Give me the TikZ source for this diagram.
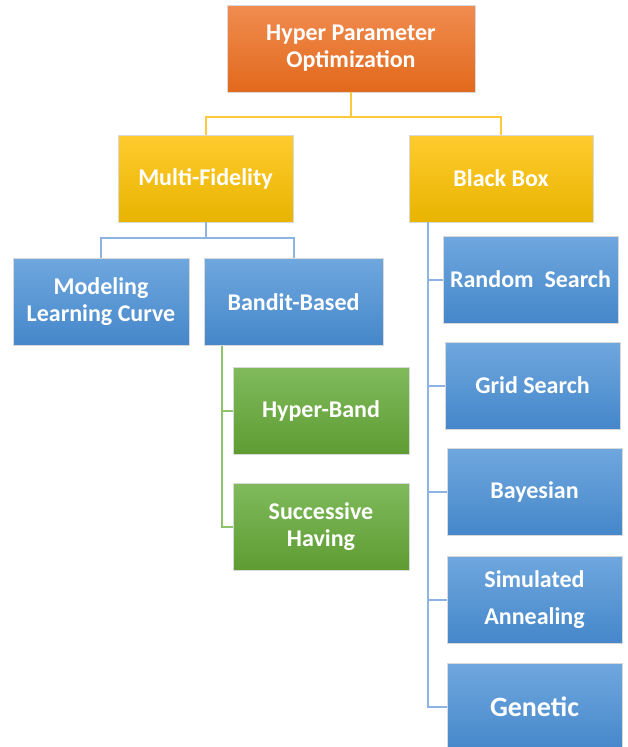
\documentclass[tikz,border=0pt]{standalone}
\usepackage{fontspec}
\setmainfont{Carlito}
\definecolor{orgtop}{HTML}{F08C50}
\definecolor{orgbot}{HTML}{E2691C}
\definecolor{yeltop}{HTML}{FFCB2E}
\definecolor{yelbot}{HTML}{E8B400}
\definecolor{blutop}{HTML}{6FA7DE}
\definecolor{blubot}{HTML}{4587CA}
\definecolor{grntop}{HTML}{80BA5C}
\definecolor{grnbot}{HTML}{5E9C32}
\definecolor{goldln}{HTML}{FFC83D}
\definecolor{bluln}{HTML}{8DB3E2}
\definecolor{grnln}{HTML}{8DC46B}
\tikzset{
  box/.style={rectangle, draw=white!85!black, line width=.6pt, text=white,
    font=\bfseries\fontsize{24}{27}\selectfont, align=center, inner sep=0pt},
  orangebox/.style={box, top color=orgtop, bottom color=orgbot, minimum width=248pt, minimum height=87pt},
  yellowbox/.style={box, top color=yeltop, bottom color=yelbot, minimum height=87pt},
  bluebox/.style={box, top color=blutop, bottom color=blubot, minimum width=175pt, minimum height=87pt},
  greenbox/.style={box, top color=grntop, bottom color=grnbot, minimum width=176pt, minimum height=87pt},
  link/.style={line width=2pt}
}
\begin{document}
\begin{tikzpicture}[x=1pt,y=-1pt]
\useasboundingbox[fill=white] (0,0) rectangle (627,747);

\node[orangebox] (hpo) at (351,48.5) {Hyper Parameter\\Optimization};
\node[yellowbox, minimum width=175pt] (mf) at (205.5,178.5) {Multi-Fidelity};
\node[yellowbox, minimum width=184pt] (bb) at (501,178.5) {Black Box};

\node[bluebox, minimum width=176pt] (mlc) at (101,302) {Modeling\\Learning Curve};
\node[bluebox, minimum width=179pt] (bandit) at (293.5,302) {Bandit-Based};

\node[greenbox] (hband) at (321,411) {Hyper-Band};
\node[greenbox] (shaving) at (321,526.5) {Successive\\Having};

\node[bluebox] (rsearch) at (530.5,279.5) {Random~ Search};
\node[bluebox] (gsearch) at (532.5,385.5) {Grid Search};
\node[bluebox] (bayes) at (534.5,492) {Bayesian};
\node[bluebox] (sanneal) at (534.5,599.5) {Simulated\\[10pt]Annealing};
\node[bluebox, font=\bfseries\fontsize{28}{32}\selectfont] (genetic) at (534.5,707) {Genetic};

% top level
\draw[link,goldln] (hpo.south) -- ++(0,25) -| (mf.north);
\draw[link,goldln] (hpo.south) -- ++(0,25) -| (bb.north);

% multi-fidelity
\draw[link,bluln] (mf.south) -- ++(0,16) -| (mlc.north);
\draw[link,bluln] (mf.south) -- ++(0,16) -| (bandit.north);

% bandit-based
\coordinate (bv) at ([xshift=18pt]bandit.south west);
\draw[link,grnln] (bv) |- (hband.west);
\draw[link,grnln] (bv) |- (shaving.west);

% black box
\coordinate (bbv) at ([xshift=19pt]bb.south west);
\foreach \n in {rsearch,gsearch,bayes,sanneal,genetic}
  \draw[link,bluln] (bbv) |- (\n.west);
\end{tikzpicture}
\end{document}
